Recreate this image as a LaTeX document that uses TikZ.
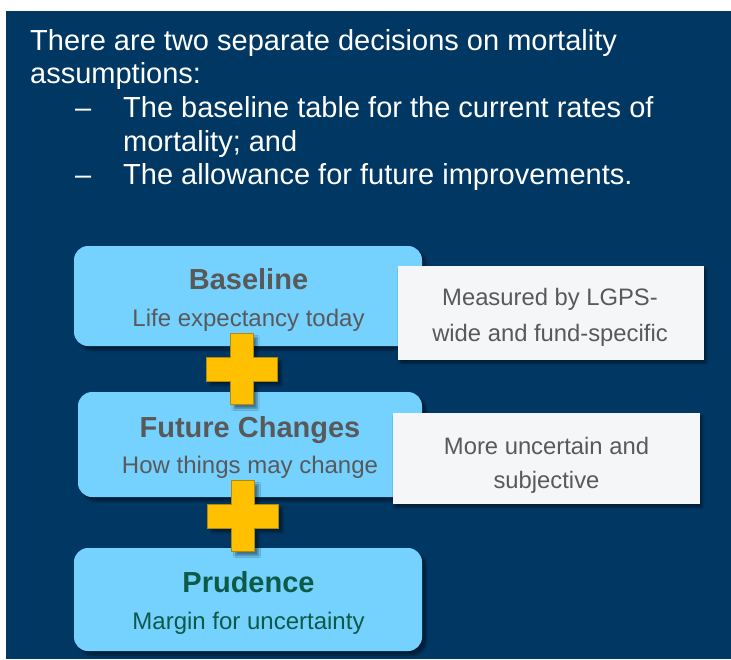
\documentclass[tikz,border=0pt]{standalone}
\usepackage{fontspec}
\setmainfont{Liberation Sans}
\usetikzlibrary{shadows.blur}

\definecolor{navy}{HTML}{013763}
\definecolor{skyfill}{HTML}{75D2FE}
\definecolor{panelgray}{HTML}{F5F6F8}
\definecolor{inktext}{HTML}{595959}
\definecolor{prudgreen}{HTML}{0E5A48}
\definecolor{plusgold}{HTML}{FFC000}
\definecolor{plusedge}{HTML}{B08A10}

\tikzset{
  headline/.style={anchor=base west, inner sep=0pt, text=white, font=\fontsize{29}{33}\selectfont},
  stagebox/.style={draw=none, fill=skyfill, rounded corners=14pt, inner sep=0pt,
    blur shadow={shadow xshift=4pt, shadow yshift=-4pt, shadow blur steps=6, shadow opacity=45}},
  notebox/.style={draw=none, fill=panelgray, inner sep=0pt,
    blur shadow={shadow xshift=2pt, shadow yshift=-3pt, shadow blur steps=6, shadow opacity=45}},
  stagetitle/.style={anchor=base, inner sep=0pt, font=\bfseries\fontsize{29}{33}\selectfont},
  stagesub/.style={anchor=base, inner sep=0pt, font=\fontsize{24}{28}\selectfont},
  notetext/.style={anchor=base, inner sep=0pt, text=inktext, font=\fontsize{23.8}{28}\selectfont},
  crossfill/.style={fill=plusgold, draw=plusedge, line width=0.6pt,
    blur shadow={shadow xshift=4pt, shadow yshift=-4pt, shadow blur steps=6, shadow opacity=45}},
  pics/crossmark/.style={code={
    \path[crossfill] (-11.5,-35.5) -- (11.5,-35.5) -- (11.5,-12) -- (35.5,-12) -- (35.5,12)
      -- (11.5,12) -- (11.5,35.5) -- (-11.5,35.5) -- (-11.5,12) -- (-35.5,12)
      -- (-35.5,-12) -- (-11.5,-12) -- cycle;
  }}
}

\begin{document}
\begin{tikzpicture}[x=1pt,y=-1pt]
  \useasboundingbox (0,0) rectangle (731,659);
  % slide background
  \fill[navy] (6,11) rectangle (731,659);

  % introductory text
  \node[headline] (l1) at (30,50) {There are two separate decisions on mortality};
  \node[headline] (l2) at (30,83) {assumptions:};
  \node[headline] (d1) at (75,117) {–};
  \node[headline] (l3) at (123,117) {The baseline table for the current rates of};
  \node[headline] (l4) at (123,151) {mortality; and};
  \node[headline] (d2) at (75,184) {–};
  \node[headline] (l5) at (123,184) {The allowance for future improvements.};

  % baseline stage with its note
  \node[stagebox, minimum width=348pt, minimum height=100pt] (base) at (248,296) {};
  \node[stagetitle, text=inktext] (baseT) at (248.5,289) {Baseline};
  \node[stagesub, text=inktext] (baseS) at (248.5,326) {Life expectancy today};
  \node[notebox, minimum width=306pt, minimum height=94pt] (note1) at (551,313) {};
  \node[notetext] (note1a) at (550,305) {Measured by LGPS-};
  \node[notetext] (note1b) at (550,341) {wide and fund-specific};

  % future changes stage with its note
  \node[stagebox, minimum width=344pt, minimum height=105pt] (future) at (250,444.5) {};
  \node[stagetitle, text=inktext] (futT) at (250,437) {Future Changes};
  \node[stagesub, text=inktext] (futS) at (250,473) {How things may change};
  \node[notebox, minimum width=307pt, minimum height=91pt] (note2) at (546.5,458.5) {};
  \node[notetext] (note2a) at (546.5,454) {More uncertain and};
  \node[notetext] (note2b) at (546.5,488) {subjective};

  % prudence stage
  \node[stagebox, minimum width=348pt, minimum height=103pt] (prud) at (248,599.5) {};
  \node[stagetitle, text=prudgreen] (prudT) at (248.5,592) {Prudence};
  \node[stagesub, text=prudgreen] (prudS) at (248.5,629) {Margin for uncertainty};

  % plus signs joining the stages
  \pic at (241.5,369) {crossmark};
  \pic at (243,516) {crossmark};
\end{tikzpicture}
\end{document}
